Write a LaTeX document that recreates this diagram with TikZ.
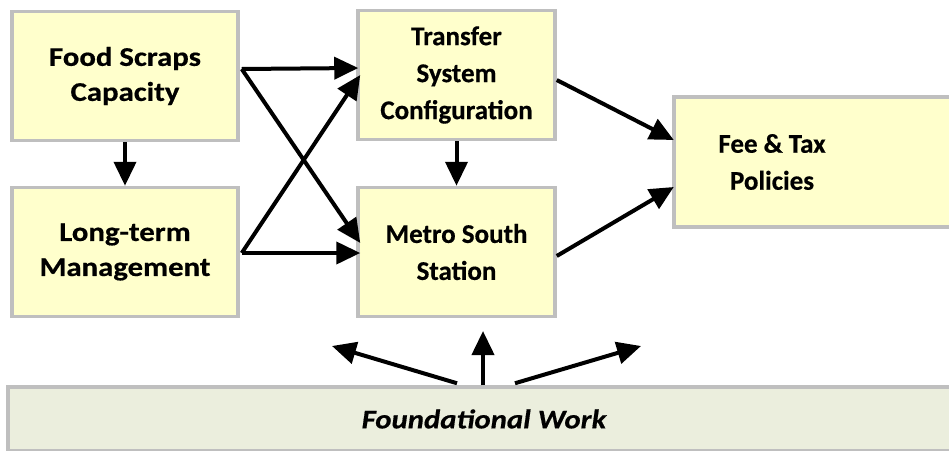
\documentclass[tikz,border=0pt]{standalone}
\usepackage{fontspec}
\setmainfont{Carlito}[BoldFeatures={FakeBold=0.5},BoldItalicFeatures={FakeBold=0.5}]
\newfontfamily\widefont{Carlito}[FakeStretch=1.14,BoldFeatures={FakeBold=0.5},BoldItalicFeatures={FakeBold=0.5}]
\usetikzlibrary{arrows.meta,calc}
\definecolor{boxfill}{HTML}{FFFFCC}
\definecolor{basefill}{HTML}{EBEEDD}
\definecolor{boxline}{HTML}{BFBFBF}
\begin{document}
\begin{tikzpicture}[x=1pt,y=-1pt,
  box/.style={draw=boxline, line width=3.5pt, fill=boxfill, align=center,
    font=\bfseries\fontsize{27}{36}\selectfont, inner sep=0pt},
  leftbox/.style={box, minimum width=226pt, minimum height=129pt,
    font=\widefont\bfseries\fontsize{27}{35}\selectfont},
  midbox/.style={box, minimum width=197pt, minimum height=129pt,
    font=\bfseries\fontsize{27}{37}\selectfont},
  flow/.style={line width=4pt, -{Triangle[length=24pt,width=22pt]}}]
\useasboundingbox (0,0) rectangle (949,450);
\clip (0,0) rectangle (949,450);

% boxes
\node[leftbox] (food) at (125,76) {Food Scraps\\Capacity};
\node[leftbox] (long) at (125,252) {Long-term\\Management};
\node[midbox] (transfer) at (456.5,75) {Transfer\\System\\Configuration};
\node[midbox] (metro) at (456.5,252) {Metro South\\Station};

% policy box runs past the right edge
\draw[draw=boxline, line width=3.5pt, fill=boxfill] (674,97) rectangle (970,227);
\node[align=center, font=\bfseries\fontsize{27}{37}\selectfont, inner sep=0pt,
  minimum width=196pt, minimum height=130pt] (fee) at (772,162) {Fee \& Tax\\Policies};

% foundation strip
\node[draw=boxline, line width=3.5pt, fill=basefill, minimum width=952pt,
  minimum height=64pt, inner sep=0pt,
  font=\widefont\bfseries\itshape\fontsize{27}{36}\selectfont] (base) at (484,419) {Foundational Work};

% connectors
\draw[flow] ($(food.east)+(2,-7)$) -- ($(transfer.west)+(2,-7)$);
\draw[flow] ($(food.east)+(2,-7)$) -- ($(metro.west)+(4,-9)$);
\draw[flow] ($(long.east)+(2,1)$) -- ($(transfer.west)+(4,0)$);
\draw[flow] ($(long.east)+(2,1)$) -- ($(metro.west)+(4,1)$);
\draw[flow] (food.south) -- (long.north);
\draw[flow] (transfer.south) -- (metro.north);
\draw[flow] ($(transfer.east)+(0,5)$) -- ($(fee.west)+(0,-22)$);
\draw[flow] ($(metro.east)+(0,4)$) -- ($(fee.west)+(0,25)$);

% foundation arrows
\coordinate (upleft) at (332,346);
\coordinate (upmid) at (483,331);
\coordinate (upright) at (641,346);
\draw[flow] ($(base.north)+(-27,-2)$) -- (upleft);
\draw[flow] ($(base.north)+(-1,0)$) -- (upmid);
\draw[flow] ($(base.north)+(31,-2)$) -- (upright);
\end{tikzpicture}
\end{document}
